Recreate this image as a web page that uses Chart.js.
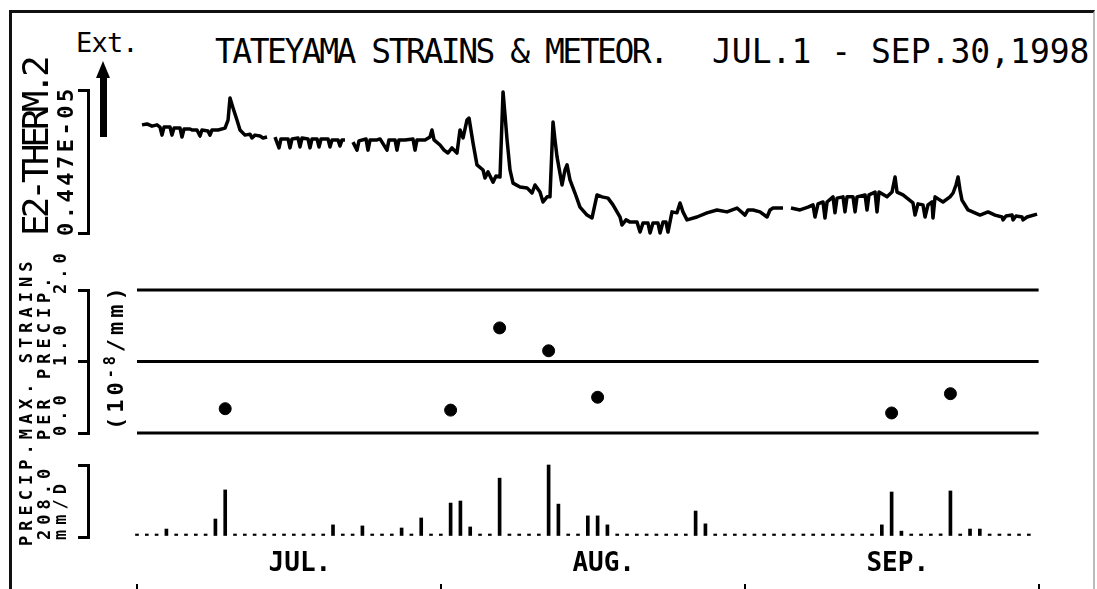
<!DOCTYPE html>
<html>
<head>
<meta charset="utf-8">
<script src="https://cdn.jsdelivr.net/npm/chart.js@4"></script>
<style>
  html, body { margin: 0; padding: 0; background: #fff; }
  #page { position: relative; width: 1097px; height: 589px; overflow: hidden; background: #fff;
          font-family: "DejaVu Sans Mono", monospace; color: #000; }
  #frame { position: absolute; left: 9px; top: 10px; width: 1086px; height: 640px;
           border-left: 3px solid #111; border-top: 3px solid #111; border-right: 2px solid #bbb; box-sizing: border-box; }
  canvas { position: absolute; left: 0; }
  .txt { position: absolute; white-space: pre; line-height: 1; }
  .rot { position: absolute; white-space: pre; line-height: 1; transform-origin: 0 0; transform: rotate(-90deg); }
  .small { font-size: 17px; font-weight: bold; letter-spacing: 5px; }
  #shaft { position: absolute; left: 100px; top: 76px; width: 7px; height: 61px; background: #000; }
  #head { position: absolute; left: 96px; top: 61px; width: 0; height: 0;
          border-left: 7px solid transparent; border-right: 7px solid transparent; border-bottom: 17px solid #000; }
</style>
</head>
<body>
<div id="page">
  <div id="frame"></div>
  <div class="txt" style="left:215px; top:35px; font-size:33px; letter-spacing:-2.5px;">TATEYAMA STRAINS &amp; METEOR.</div>
  <div class="txt" style="left:712px; top:35px; font-size:33px;">JUL.1 - SEP.30,1998</div>
  <div class="txt" style="left:76px; top:29px; font-size:27px; letter-spacing:-0.8px;">Ext.</div>
  <div id="head"></div>
  <div id="shaft"></div>

  <canvas id="strainChart" width="1097" height="200" style="top:60px"></canvas>
  <canvas id="ratioChart" width="1097" height="190" style="top:262px"></canvas>
  <canvas id="precipChart" width="1097" height="149" style="top:440px"></canvas>

  <div class="rot small" style="left:18px; top:546px;">PRECIP.MAX. STRAINS</div>
  <div class="rot" style="left:18px; top:236px; font-size:36px; letter-spacing:-4px;">E2-THERM.2</div>
  <div class="rot" style="left:55px; top:236px; font-size:22px; font-weight:bold; letter-spacing:3.5px;">0.447E-05</div>
  <div class="rot small" style="left:36px; top:440px;">PER PRECIP.</div>
  <div class="rot small" style="left:36px; top:540px;" id="precipMaxLabel"></div>
  <div class="rot small" style="left:52px; top:540px;">mm/D</div>
  <div class="rot small" style="left:52px; top:436px;" id="ratioTick0"></div>
  <div class="rot small" style="left:52px; top:366px;" id="ratioTick1"></div>
  <div class="rot small" style="left:52px; top:294px;" id="ratioTick2"></div>
  <div class="rot" style="left:103px; top:430px; font-size:22px; font-weight:bold; letter-spacing:4px;">(10<sup style="font-size:15px">-8</sup>/mm)</div>
</div>

<script>
// time axis: days since JUL.1 1998
const dayMin = -5;
const dayMax = 92.14;
const monthDays = [15.5, 46.5, 76.5];
const monthLabels = ['JUL.', 'AUG.', 'SEP.'];
const monthEdges = [0, 31, 62, 92];

// E2-THERM.2 strain (1e-8), null = data gap
const strainDays = [
  0.51, 1.02, 1.53, 2.04, 2.35, 2.55, 2.76, 3.37, 3.57, 3.78, 4.39, 4.59, 4.80, 5.41, 5.61, 6.12, 6.43, 6.63,
  7.24, 7.45, 7.65, 8.27, 8.98, 9.29, 9.49, 9.80, 10.20, 10.51, 11.02, 11.53, 11.73, 12.04, 12.55, 12.86, 13.27,
  13.7,
  14.08, 14.49, 14.69, 15.41, 15.61, 15.82, 16.43, 16.63, 16.84, 17.45, 17.65, 17.86, 18.37, 18.57, 18.78,
  19.49, 19.69, 19.90, 20.51, 20.71, 20.92, 21.22,
  21.6,
  22.04, 22.45, 22.65, 23.37, 23.57, 23.78, 24.49, 24.80, 25.51, 25.71, 26.33, 26.53, 26.73, 27.35, 28.16,
  28.37, 28.57, 29.39, 29.90, 30.10, 30.31, 30.92, 31.33, 31.73, 32.14, 32.65, 32.96, 33.27, 33.67, 33.88,
  34.29, 34.69, 35.31, 35.51, 35.82, 36.33, 36.63, 37.04, 37.35, 37.55, 37.76, 38.06, 38.37, 39.08, 39.80,
  40.31, 40.61, 41.12, 41.43, 41.84, 42.14, 42.45, 42.65, 42.86, 43.37, 43.67, 43.88, 44.18, 44.69, 45.20,
  45.92, 46.43, 46.94, 47.45, 48.06, 48.57, 49.29, 49.49, 49.90, 50.31, 51.02, 51.33, 51.63, 52.14, 52.35,
  52.65, 53.16, 53.37, 53.67, 53.98, 54.18, 54.59, 55.10, 55.41, 55.71, 56.12, 57.14, 58.16, 59.18, 60.20,
  61.22, 62.04, 62.35, 62.86, 63.57, 64.29, 64.59, 64.90, 65.92,
  66.3,
  66.73, 67.65, 68.47, 68.98, 69.18, 69.49, 70.00, 70.20, 70.41, 71.02, 71.22, 71.43, 72.04, 72.24, 72.45,
  73.06, 73.27, 73.47, 74.29, 74.49, 74.69, 75.31, 75.51, 75.71, 76.53, 77.04, 77.35, 77.55, 78.16, 79.18,
  79.39, 79.69, 80.20, 80.41, 80.71, 81.12, 81.22, 81.43, 82.24, 82.96, 83.27, 83.57, 83.78, 83.98, 84.18,
  84.80, 86.02, 86.84, 87.55, 88.27, 88.37, 88.67, 89.29, 89.39, 89.69, 90.31, 90.41, 90.82, 91.84
];
const strainValues = [
  338, 341, 334, 338, 331, 306, 331, 331, 306, 328, 328, 300, 325, 325, 322, 322, 303, 322,
  319, 306, 322, 322, 328, 353, 422, 391, 353, 322, 306, 309, 297, 306, 303, 297, 300,
  null,
  300, 266, 294, 294, 266, 294, 297, 269, 297, 294, 266, 294, 294, 269, 294,
  294, 269, 291, 291, 272, 291, 291,
  null,
  284, 259, 288, 294, 259, 291, 291, 294, 259, 291, 291, 259, 291, 291, 294,
  259, 291, 291, 300, 322, 291, 275, 259, 250, 266, 250, 322, 297, 353, 359,
  281, 213, 197, 172, 191, 159, 178, 175, 441, 369, 291, 197, 156, 144, 141,
  125, 150, 128, 97, 113, 113, 347, 291, 238, 150, 197, 213, 166, 125, 81,
  56, 47, 119, 113, 109, 88, 50, 25, 41, 34, 34, 3, 31, 31, 0,
  31, 31, 0, 34, 34, 3, 66, 63, 94, 66, 41, 50, 63, 72, 66,
  78, 56, 72, 72, 66, 50, 72, 78, 78,
  null,
  78, 72, 81, 88, 50, 91, 97, 47, 97, 113, 63, 109, 113, 66, 113,
  113, 66, 113, 119, 72, 119, 128, 66, 128, 113, 128, 175, 128, 119, 94,
  56, 91, 88, 50, 88, 97, 47, 113, 97, 113, 125, 150, 175, 134, 103,
  72, 56, 66, 56, 50, 41, 53, 56, 41, 53, 50, 41, 50, 59
];
const strainFullScale = 447; // 0.447E-05

// max. strains per precipitation (1e-8/mm)
const ratioDays = [9, 32, 37, 42, 47, 77, 83];
const ratioValues = [0.34, 0.32, 1.47, 1.15, 0.50, 0.28, 0.55];
const ratioTicks = [0, 1, 2];
const ratioTickLabels = ['0.0', '1.0', '2.0'];

// daily precipitation (mm/D)
const precipDays = [
  0, 1, 2, 3, 4, 5, 6, 7, 8, 9, 10, 11, 12, 13, 14, 15, 16, 17, 18, 19, 20, 21, 22, 23, 24, 25, 26, 27, 28, 29, 30,
  31, 32, 33, 34, 35, 36, 37, 38, 39, 40, 41, 42, 43, 44, 45, 46, 47, 48, 49, 50, 51, 52, 53, 54, 55, 56, 57, 58, 59, 60, 61,
  62, 63, 64, 65, 66, 67, 68, 69, 70, 71, 72, 73, 74, 75, 76, 77, 78, 79, 80, 81, 82, 83, 84, 85, 86, 87, 88, 89, 90, 91
];
const precipValues = [
  0, 0, 0, 23, 0, 0, 0, 0, 52, 136, 0, 0, 0, 0, 0, 5, 0, 0, 0, 0, 35, 0, 0, 32, 0, 0, 0, 26, 0, 55, 0,
  0, 98, 104, 29, 0, 0, 170, 0, 0, 0, 0, 208, 95, 4, 0, 61, 61, 35, 0, 0, 0, 0, 0, 0, 4, 0, 75, 38, 0, 0, 0,
  4, 0, 0, 0, 0, 0, 0, 0, 0, 0, 0, 0, 0, 0, 35, 130, 17, 0, 0, 0, 9, 133, 0, 23, 23, 0, 0, 0, 0, 0
];
const precipFullScale = 208;
const precipMaxLabel = '208.0';

document.getElementById('precipMaxLabel').textContent = precipMaxLabel;
ratioTickLabels.forEach((t, i) => { document.getElementById('ratioTick' + i).textContent = t; });

const ink = '#000';

function bracketAxis(min, max, tickValues) {
    return {
        min: min,
        max: max,
        afterFit: s => { s.width = 30; },
        afterBuildTicks: s => { s.ticks = tickValues.map(v => ({ value: v })); },
        ticks: { display: false },
        grid: { drawOnChartArea: false, drawTicks: true, tickLength: 10, lineWidth: 3, color: ink },
        border: { display: true, width: 3, color: ink }
    };
}

function hiddenX() {
    return { type: 'linear', min: dayMin, max: dayMax, offset: false, display: false };
}

function baseOptions(padding, scales) {
    return {
        responsive: false,
        animation: false,
        layout: { padding: padding },
        plugins: { legend: { display: false }, tooltip: { enabled: false } },
        scales: scales
    };
}

// strain panel
new Chart(document.getElementById('strainChart'), {
    type: 'line',
    data: {
        datasets: [{
            data: strainDays.map((d, i) => ({ x: d, y: strainValues[i] })),
            borderColor: ink,
            borderWidth: 3.5,
            pointRadius: 0,
            tension: 0,
            spanGaps: false,
            borderJoinStyle: 'round',
            clip: 6
        }]
    },
    options: baseOptions({ top: 30, bottom: 27, left: 58, right: 57 }, {
        x: hiddenX(),
        y: bracketAxis(0, strainFullScale, [0, strainFullScale])
    })
});

// max strain per precip panel
const ratioLines = ratioTicks.map(level => ({
    type: 'line',
    data: [{ x: monthEdges[0], y: level }, { x: monthEdges[monthEdges.length - 1], y: level }],
    borderColor: ink,
    borderWidth: 2.8,
    pointRadius: 0,
    clip: 4
}));

new Chart(document.getElementById('ratioChart'), {
    type: 'line',
    data: {
        datasets: ratioLines.concat([{
            type: 'scatter',
            data: ratioDays.map((d, i) => ({ x: d, y: ratioValues[i] })),
            backgroundColor: ink,
            borderColor: ink,
            pointRadius: 6,
            showLine: false
        }])
    },
    options: baseOptions({ top: 28, bottom: 19, left: 58, right: 57 }, {
        x: hiddenX(),
        y: bracketAxis(ratioTicks[0], ratioTicks[ratioTicks.length - 1], ratioTicks)
    })
});

// precipitation panel
new Chart(document.getElementById('precipChart'), {
    type: 'bar',
    data: {
        datasets: [{
            data: precipDays.map((d, i) => ({ x: d, y: precipValues[i] })),
            backgroundColor: ink,
            barThickness: 3,
            minBarLength: 3,
            clip: 5
        }]
    },
    options: baseOptions({ top: 25, bottom: 0, left: 58, right: 57 }, {
        x: {
            type: 'linear', min: dayMin, max: dayMax, offset: false, position: 'bottom', weight: 0,
            afterBuildTicks: s => { s.ticks = monthDays.map(v => ({ value: v })); },
            afterFit: s => { s.height = 47; },
            ticks: {
                autoSkip: false, maxRotation: 0, minRotation: 0, padding: 12, labelOffset: 11, color: ink,
                font: { family: 'DejaVu Sans Mono', size: 26, weight: 'bold' },
                callback: (v, i) => monthLabels[i]
            },
            grid: { display: false, drawTicks: false, offset: false },
            border: { display: false }
        },
        xEdge: {
            type: 'linear', min: dayMin, max: dayMax, offset: false, position: 'bottom', weight: 1,
            afterBuildTicks: s => { s.ticks = monthEdges.map(v => ({ value: v })); },
            afterFit: s => { s.height = 5; },
            ticks: { display: false },
            grid: { display: true, offset: false, drawOnChartArea: false, drawTicks: true, tickLength: 5, lineWidth: 2, color: ink },
            border: { display: false }
        },
        y: bracketAxis(0, precipFullScale, [0, precipFullScale])
    })
});
</script>
</body>
</html>
